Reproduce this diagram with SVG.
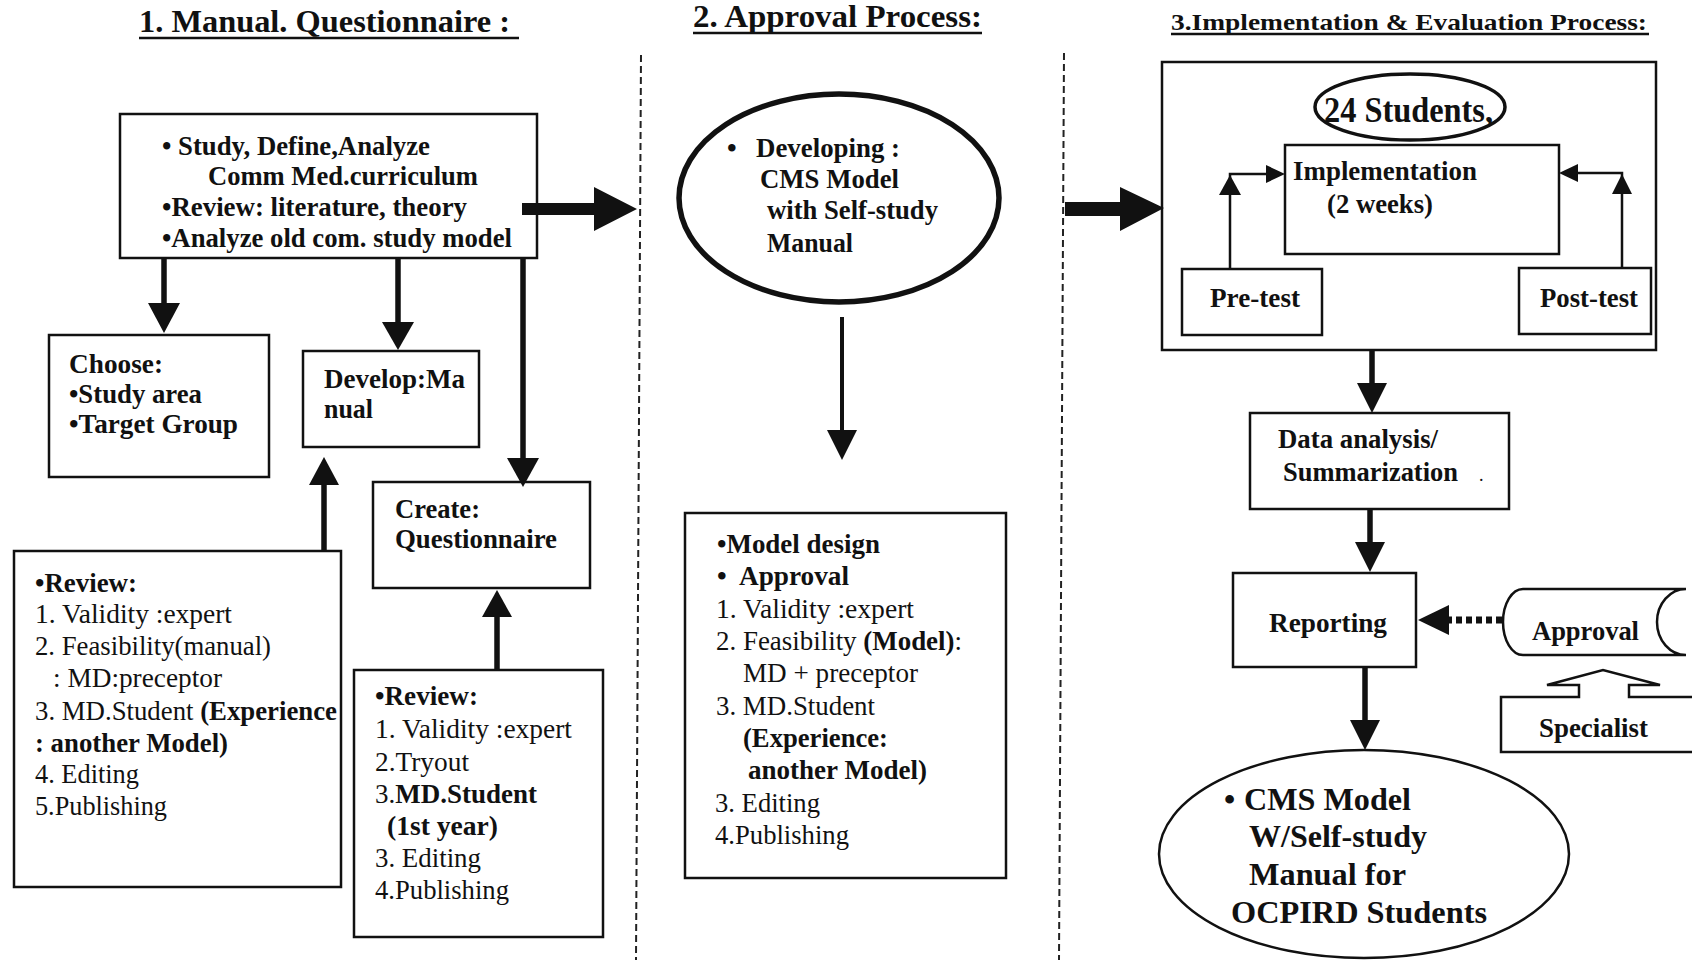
<svg xmlns="http://www.w3.org/2000/svg" width="1692" height="960" viewBox="0 0 1692 960">
<style>
text{font-family:"Liberation Serif","Times New Roman",serif;fill:#111;font-size:27.5px}
.b{font-weight:bold}
.r{font-weight:normal}
.box{fill:none;stroke:#111;stroke-width:2.5}
.ln{stroke:#111;fill:none}
.ah{fill:#111;stroke:none}
.dash{stroke:#222;stroke-width:2;stroke-dasharray:7 4;fill:none}
.title{font-weight:bold;font-size:31px}
.big{font-size:32px}
</style>
<rect x="0" y="0" width="1692" height="960" fill="#fff"/>

<g id="titles">
<text class="title" x="139" y="32" textLength="371" lengthAdjust="spacingAndGlyphs">1. Manual. Questionnaire :</text>
<line class="ln" x1="139" y1="38" x2="519" y2="38" stroke-width="2.5"/>
<text class="title" x="693" y="27" textLength="289" lengthAdjust="spacingAndGlyphs">2. Approval Process:</text>
<line class="ln" x1="693" y1="33" x2="982" y2="33" stroke-width="2.5"/>
<text class="title" x="1171" y="30" style="font-size:24px" textLength="476" lengthAdjust="spacingAndGlyphs">3.Implementation &amp; Evaluation Process:</text>
<line class="ln" x1="1171" y1="34" x2="1649" y2="34" stroke-width="2.5"/>
</g>

<g id="dividers">
<line class="dash" x1="641" y1="55" x2="636" y2="960"/>
<line class="dash" x1="1064" y1="53" x2="1059" y2="960"/>
</g>

<g id="n-study">
<rect class="box" x="120" y="114" width="417" height="144"/>
<text class="b" x="162" y="155" textLength="268" lengthAdjust="spacingAndGlyphs">• Study, Define,Analyze</text>
<text class="b" x="208" y="185" textLength="270" lengthAdjust="spacingAndGlyphs">Comm Med.curriculum</text>
<text class="b" x="162" y="216" textLength="305" lengthAdjust="spacingAndGlyphs">•Review: literature, theory</text>
<text class="b" x="162" y="247" textLength="350" lengthAdjust="spacingAndGlyphs">•Analyze old com. study model</text>
</g>

<g id="n-choose">
<rect class="box" x="49" y="335" width="220" height="142"/>
<text class="b" x="69" y="373" textLength="94" lengthAdjust="spacingAndGlyphs">Choose:</text>
<text class="b" x="69" y="403" textLength="133" lengthAdjust="spacingAndGlyphs">•Study area</text>
<text class="b" x="69" y="433" textLength="169" lengthAdjust="spacingAndGlyphs">•Target Group</text>
</g>

<g id="n-develop">
<rect class="box" x="303" y="351" width="176" height="96"/>
<text class="b" x="324" y="388" textLength="141" lengthAdjust="spacingAndGlyphs">Develop:Ma</text>
<text class="b" x="324" y="418" textLength="49" lengthAdjust="spacingAndGlyphs">nual</text>
</g>

<g id="n-create">
<rect class="box" x="373" y="482" width="217" height="106"/>
<text class="b" x="395" y="518" textLength="85" lengthAdjust="spacingAndGlyphs">Create:</text>
<text class="b" x="395" y="548" textLength="162" lengthAdjust="spacingAndGlyphs">Questionnaire</text>
</g>

<g id="n-review1">
<rect class="box" x="14" y="551" width="327" height="336"/>
<text class="b" x="35" y="592" textLength="102" lengthAdjust="spacingAndGlyphs">•Review:</text>
<text class="r" x="35" y="623" textLength="197" lengthAdjust="spacingAndGlyphs">1. Validity :expert</text>
<text class="r" x="35" y="655" textLength="236" lengthAdjust="spacingAndGlyphs">2. Feasibility(manual)</text>
<text class="r" x="53" y="687" textLength="169" lengthAdjust="spacingAndGlyphs">: MD:preceptor</text>
<text class="r" x="35" y="720" textLength="302" lengthAdjust="spacingAndGlyphs">3. MD.Student <tspan class="b">(Experience</tspan></text>
<text class="b" x="35" y="752" textLength="193" lengthAdjust="spacingAndGlyphs">: another Model)</text>
<text class="r" x="35" y="783" textLength="104" lengthAdjust="spacingAndGlyphs">4. Editing</text>
<text class="r" x="35" y="815" textLength="132" lengthAdjust="spacingAndGlyphs">5.Publishing</text>
</g>

<g id="n-review2">
<rect class="box" x="354" y="670" width="249" height="267"/>
<text class="b" x="375" y="705" textLength="103" lengthAdjust="spacingAndGlyphs">•Review:</text>
<text class="r" x="375" y="738" textLength="197" lengthAdjust="spacingAndGlyphs">1. Validity :expert</text>
<text class="r" x="375" y="771" textLength="94" lengthAdjust="spacingAndGlyphs">2.Tryout</text>
<text class="r" x="375" y="803" textLength="162" lengthAdjust="spacingAndGlyphs">3.<tspan class="b">MD.Student</tspan></text>
<text class="b" x="387" y="835" textLength="111" lengthAdjust="spacingAndGlyphs">(1st year)</text>
<text class="r" x="375" y="867" textLength="106" lengthAdjust="spacingAndGlyphs">3. Editing</text>
<text class="r" x="375" y="899" textLength="134" lengthAdjust="spacingAndGlyphs">4.Publishing</text>
</g>

<g id="n-developing">
<ellipse cx="839" cy="198" rx="160" ry="104" fill="none" stroke="#111" stroke-width="5.5"/>
<text class="b" x="727" y="157">•</text>
<text class="b" x="756" y="157" textLength="144" lengthAdjust="spacingAndGlyphs">Developing :</text>
<text class="b" x="760" y="188" textLength="139" lengthAdjust="spacingAndGlyphs">CMS Model</text>
<text class="b" x="767" y="219" textLength="171" lengthAdjust="spacingAndGlyphs">with Self-study</text>
<text class="b" x="767" y="252" textLength="86" lengthAdjust="spacingAndGlyphs">Manual</text>
</g>

<g id="n-model">
<rect class="box" x="685" y="513" width="321" height="365"/>
<text class="b" x="717" y="553" textLength="163" lengthAdjust="spacingAndGlyphs">•Model design</text>
<text class="b" x="717" y="585">•</text>
<text class="b" x="739" y="585" textLength="110" lengthAdjust="spacingAndGlyphs">Approval</text>
<text class="r" x="716" y="618" textLength="198" lengthAdjust="spacingAndGlyphs">1. Validity :expert</text>
<text class="r" x="716" y="650" textLength="246" lengthAdjust="spacingAndGlyphs">2. Feasibility <tspan class="b">(Model)</tspan>:</text>
<text class="r" x="743" y="682" textLength="175" lengthAdjust="spacingAndGlyphs">MD + preceptor</text>
<text class="r" x="716" y="715" textLength="159" lengthAdjust="spacingAndGlyphs">3. MD.Student</text>
<text class="b" x="743" y="747" textLength="145" lengthAdjust="spacingAndGlyphs">(Experience:</text>
<text class="b" x="748" y="779" textLength="179" lengthAdjust="spacingAndGlyphs">another Model)</text>
<text class="r" x="715" y="812" textLength="105" lengthAdjust="spacingAndGlyphs">3. Editing</text>
<text class="r" x="715" y="844" textLength="134" lengthAdjust="spacingAndGlyphs">4.Publishing</text>
</g>

<g id="n-implgroup">
<rect class="box" x="1162" y="62" width="494" height="288"/>
</g>

<g id="n-students">
<ellipse cx="1410" cy="107" rx="95" ry="33" fill="#fff" stroke="#111" stroke-width="3.5"/>
<text class="b" x="1324" y="122" style="font-size:35px" textLength="169" lengthAdjust="spacingAndGlyphs">24 Students,</text>
</g>

<g id="n-implementation">
<rect class="box" x="1285" y="145" width="274" height="109"/>
<text class="b" x="1293" y="180" textLength="184" lengthAdjust="spacingAndGlyphs">Implementation</text>
<text class="b" x="1327" y="213" textLength="106" lengthAdjust="spacingAndGlyphs">(2 weeks)</text>
</g>

<g id="n-pretest">
<rect class="box" x="1182" y="269" width="140" height="66"/>
<text class="b" x="1210" y="307" textLength="90" lengthAdjust="spacingAndGlyphs">Pre-test</text>
</g>

<g id="n-posttest">
<rect class="box" x="1519" y="268" width="132" height="66"/>
<text class="b" x="1540" y="307" textLength="98" lengthAdjust="spacingAndGlyphs">Post-test</text>
</g>

<g id="n-data">
<rect class="box" x="1250" y="413" width="259" height="96"/>
<text class="b" x="1278" y="448" textLength="160" lengthAdjust="spacingAndGlyphs">Data analysis/</text>
<text class="b" x="1283" y="481" textLength="175" lengthAdjust="spacingAndGlyphs">Summarization</text>
<text class="r" x="1479" y="481" style="font-size:18px">.</text>
</g>

<g id="n-reporting">
<rect class="box" x="1233" y="573" width="183" height="94"/>
<text class="b" x="1269" y="632" textLength="118" lengthAdjust="spacingAndGlyphs">Reporting</text>
</g>

<g id="n-approval">
<path class="box" d="M1523,589 H1686 A29,33 0 0 0 1686,655 H1523 A20,33 0 0 1 1523,589 Z"/>
<text class="b" x="1532" y="640" textLength="107" lengthAdjust="spacingAndGlyphs">Approval</text>
</g>

<g id="n-specialist">
<path class="box" d="M1692,697 H1629 V685 H1660 L1603,670 L1547,685 H1579 V697 H1501 V752 H1692"/>
<text class="b" x="1539" y="737" textLength="109" lengthAdjust="spacingAndGlyphs">Specialist</text>
</g>

<g id="n-final">
<ellipse cx="1364" cy="854" rx="205" ry="104" fill="none" stroke="#111" stroke-width="2.5"/>
<text class="b big" x="1224" y="810">•</text>
<text class="b big" x="1244" y="810" textLength="167" lengthAdjust="spacingAndGlyphs">CMS Model</text>
<text class="b big" x="1249" y="847" textLength="178" lengthAdjust="spacingAndGlyphs">W/Self-study</text>
<text class="b big" x="1249" y="885" textLength="157" lengthAdjust="spacingAndGlyphs">Manual for</text>
<text class="b big" x="1231" y="923" textLength="256" lengthAdjust="spacingAndGlyphs">OCPIRD Students</text>
</g>

<g id="connectors">
<polygon class="ah" points="522,203 594,203 594,187 637,209 594,231 594,215 522,215"/>
<line class="ln" x1="164" y1="258" x2="164" y2="305" stroke-width="5.5"/>
<polygon class="ah" points="148,303 180,303 164,333"/>
<line class="ln" x1="398" y1="258" x2="398" y2="324" stroke-width="5.5"/>
<polygon class="ah" points="382,322 414,322 398,350"/>
<line class="ln" x1="523" y1="258" x2="523" y2="460" stroke-width="5.5"/>
<polygon class="ah" points="507,458 539,458 523,487"/>
<line class="ln" x1="324" y1="551" x2="324" y2="483" stroke-width="5.5"/>
<polygon class="ah" points="309,485 339,485 324,457"/>
<line class="ln" x1="497" y1="670" x2="497" y2="615" stroke-width="5.5"/>
<polygon class="ah" points="482,617 512,617 497,590"/>
<line class="ln" x1="842" y1="317" x2="842" y2="432" stroke-width="4"/>
<polygon class="ah" points="827,430 857,430 842,460"/>
<polygon class="ah" points="1065,202 1120,202 1120,187 1164,208 1120,231 1120,216 1065,216"/>
<polyline class="ln" points="1230,269 1230,174 1268,174" stroke-width="2.5"/>
<polygon class="ah" points="1219,195 1241,195 1230,175"/>
<polygon class="ah" points="1266,165 1266,183 1285,174"/>
<polyline class="ln" points="1622,268 1622,173 1576,173" stroke-width="2.5"/>
<polygon class="ah" points="1612,194 1632,194 1622,174"/>
<polygon class="ah" points="1578,164 1578,182 1559,173"/>
<line class="ln" x1="1372" y1="350" x2="1372" y2="385" stroke-width="5.5"/>
<polygon class="ah" points="1357,383 1387,383 1372,413"/>
<line class="ln" x1="1370" y1="509" x2="1370" y2="544" stroke-width="5.5"/>
<polygon class="ah" points="1355,542 1385,542 1370,572"/>
<line class="ln" x1="1365" y1="667" x2="1365" y2="722" stroke-width="5.5"/>
<polygon class="ah" points="1350,720 1380,720 1365,750"/>
<line class="ln" x1="1502" y1="620" x2="1448" y2="620" stroke-width="7" stroke-dasharray="6 4"/>
<polygon class="ah" points="1449,605 1449,635 1418,620"/>
</g>
</svg>
